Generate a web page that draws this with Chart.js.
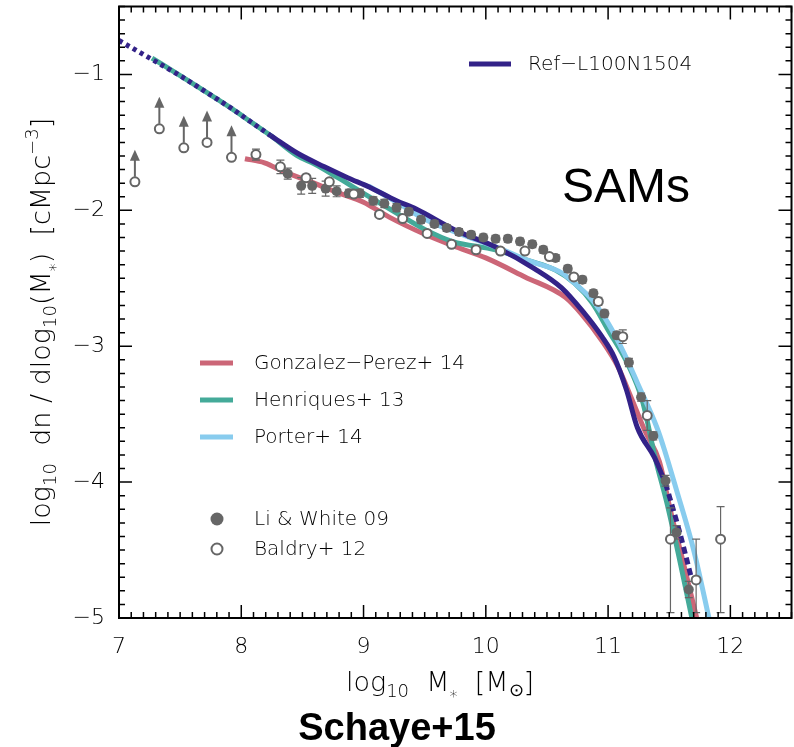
<!DOCTYPE html>
<html>
<head>
<meta charset="utf-8">
<script src="https://cdn.jsdelivr.net/npm/chart.js@4.4.1/dist/chart.umd.min.js"></script>
<style>
  html, body { margin: 0; padding: 0; background: #fff; overflow: hidden; }
  #wrap { width: 798px; height: 747px; }
</style>
</head>
<body>
<div id="wrap"><canvas id="smfChart"></canvas></div>
<script>
// ejes
const xTicks = [7, 8, 9, 10, 11, 12];
const xTickLabels = ['7', '8', '9', '10', '11', '12'];
const yTicks = [-5, -4, -3, -2, -1];
const yTickLabels = ['\u22125', '\u22124', '\u22123', '\u22122', '\u22121'];

// Ref-L100N1504: tramo punteado (resolucion), tramo solido, tramo a rayas (pocos objetos)
const refDotM   = [7.00, 7.27, 7.51, 7.73, 7.92, 8.08, 8.24];
const refDotPhi = [-0.75, -0.89, -1.015, -1.14, -1.25, -1.35, -1.45];
const refM   = [8.24, 8.46, 8.68, 8.87, 9.05, 9.27, 9.43, 9.76, 10.08, 10.40, 10.62, 10.79, 10.95, 11.05, 11.15, 11.24, 11.38, 11.47];
const refPhi = [-1.45, -1.58, -1.68, -1.76, -1.83, -1.93, -1.99, -2.15, -2.27, -2.43, -2.57, -2.74, -2.93, -3.08, -3.32, -3.60, -3.82, -4.01];
const refDashM   = [11.47, 11.58, 11.68];
const refDashPhi = [-4.01, -4.35, -4.70];

// modelos semi-analiticos
const gpM   = [8.03, 8.19, 8.36, 8.57, 8.79, 9.00, 9.21, 9.51, 9.73, 10.00, 10.32, 10.65, 10.78, 10.95, 11.08, 11.19, 11.30, 11.42, 11.51, 11.62, 11.73];
const gpPhi = [-1.62, -1.65, -1.72, -1.79, -1.87, -1.94, -2.05, -2.18, -2.26, -2.35, -2.49, -2.64, -2.76, -2.96, -3.15, -3.38, -3.62, -3.85, -4.21, -4.61, -5.02];

const henM   = [7.27, 7.51, 7.73, 7.92, 8.08, 8.24, 8.46, 8.60, 8.79, 9.00, 9.27, 9.50, 9.73, 10.08, 10.35, 10.57, 10.73, 10.87, 11.00, 11.16, 11.28, 11.39, 11.48, 11.58, 11.69];
const henPhi = [-0.88, -1.015, -1.14, -1.25, -1.35, -1.45, -1.60, -1.66, -1.76, -1.875, -2.02, -2.14, -2.23, -2.29, -2.37, -2.44, -2.54, -2.68, -2.88, -3.13, -3.40, -3.84, -4.15, -4.55, -5.02];

const porM   = [9.04, 9.27, 9.51, 9.84, 10.14, 10.35, 10.62, 10.73, 10.87, 11.00, 11.13, 11.24, 11.40, 11.46, 11.56, 11.70, 11.83];
const porPhi = [-1.82, -1.94, -2.07, -2.19, -2.29, -2.37, -2.46, -2.54, -2.66, -2.83, -3.05, -3.27, -3.60, -3.76, -4.06, -4.50, -5.02];

// observaciones: Li & White 09
const lwM   = [8.38, 8.49, 8.58, 8.69, 8.78, 8.88, 8.97, 9.08, 9.17, 9.27, 9.37, 9.47, 9.58, 9.68, 9.78, 9.88, 9.98, 10.08, 10.18, 10.28, 10.38, 10.47, 10.57, 10.67, 10.79, 10.88, 10.97, 11.07, 11.17, 11.27, 11.37, 11.47, 11.56, 11.66];
const lwPhi = [-1.73, -1.82, -1.82, -1.84, -1.86, -1.875, -1.875, -1.93, -1.95, -1.98, -2.01, -2.07, -2.10, -2.13, -2.16, -2.18, -2.20, -2.21, -2.21, -2.23, -2.25, -2.29, -2.35, -2.43, -2.51, -2.61, -2.76, -2.92, -3.12, -3.375, -3.66, -3.99, -4.37, -4.79];
const lwErr = [0.04, 0.06, 0.055, 0.055, 0.04, 0.03, 0.03, 0.03, 0.03, 0.03, 0.025, 0.025, 0.025, 0.025, 0.025, 0.025, 0.025, 0.025, 0.025, 0.025, 0.025, 0.025, 0.025, 0.025, 0.025, 0.025, 0.025, 0.025, 0.03, 0.03, 0.03, 0.04, 0.05, 0.06];

// Baldry+ 12 (los cinco primeros son limites inferiores)
const bM     = [7.13, 7.33, 7.53, 7.72, 7.92, 8.12, 8.32, 8.53, 8.72, 8.92, 9.13, 9.32, 9.52, 9.72, 9.92, 10.12, 10.32, 10.52, 10.72, 10.92, 11.12, 11.32, 11.51, 11.72, 11.92];
const bPhi   = [-1.79, -1.40, -1.54, -1.50, -1.61, -1.59, -1.68, -1.76, -1.79, -1.88, -2.03, -2.06, -2.17, -2.25, -2.29, -2.30, -2.30, -2.34, -2.49, -2.67, -2.93, -3.51, -4.42, -4.72, -4.42];
const bErrUp = [0, 0, 0, 0, 0, 0.04, 0.05, 0.02, 0.02, 0.02, 0.02, 0.02, 0.02, 0.02, 0.02, 0.02, 0.02, 0.02, 0.02, 0.03, 0.05, 0.11, 0.23, 0.30, 0.24];
const bErrLo = [0, 0, 0, 0, 0, 0.04, 0.05, 0.02, 0.02, 0.02, 0.02, 0.02, 0.02, 0.02, 0.02, 0.02, 0.02, 0.02, 0.02, 0.03, 0.05, 0.11, 0.54, 0.24, 0.54];
const bLimit = [true, true, true, true, true];

const COL = { ref: '#332288', gp: '#CC6677', hen: '#44AA99', por: '#88CCEE', obs: '#666666' };
const FONT = '"DejaVu Sans", sans-serif';

function pts(ms, phis) {
    return ms.map((m, i) => ({ x: m, y: phis[i] }));
}

function curva(label, ms, phis, color, order, dash) {
    return {
        label, data: pts(ms, phis), showLine: true, borderColor: color, backgroundColor: color,
        borderWidth: 5, pointRadius: 0, cubicInterpolationMode: 'monotone',
        borderDash: dash || [], borderCapStyle: 'butt', order
    };
}

const datasets = [
    {
        label: 'Baldry+ 12', data: pts(bM, bPhi), pointRadius: 4.5, pointBorderWidth: 2,
        borderColor: COL.obs, backgroundColor: '#fff', errHi: bErrUp, errLo: bErrLo, limits: bLimit, order: 0
    },
    {
        label: 'Li & White 09', data: pts(lwM, lwPhi), pointRadius: 5, pointBorderWidth: 0,
        borderColor: COL.obs, backgroundColor: COL.obs, errHi: lwErr, errLo: lwErr, order: 1
    },
    curva('Ref-L100N1504', refDotM, refDotPhi, COL.ref, 2, [4, 4]),
    curva('Ref-L100N1504', refM, refPhi, COL.ref, 2),
    curva('Ref-L100N1504', refDashM, refDashPhi, COL.ref, 2, [7, 4]),
    curva('Porter+ 14', porM, porPhi, COL.por, 3),
    curva('Henriques+ 13', henM, henPhi, COL.hen, 4),
    curva('Gonzalez-Perez+ 14', gpM, gpPhi, COL.gp, 5)
];

// barras de error y flechas de limite, justo antes de pintar los marcadores
const errorBars = {
    id: 'errorBars',
    beforeDatasetDraw(chart, args) {
        const ds = chart.data.datasets[args.index];
        if (!ds.errHi) return;
        const { ctx, chartArea: a, scales: { x, y } } = chart;
        ctx.save();
        ctx.beginPath();
        ctx.rect(a.left, a.top, a.right - a.left, a.bottom - a.top);
        ctx.clip();
        ctx.strokeStyle = COL.obs;
        ctx.fillStyle = COL.obs;
        ds.data.forEach((p, i) => {
            const px = x.getPixelForValue(p.x);
            const py = y.getPixelForValue(p.y);
            if (ds.limits && ds.limits[i]) {
                ctx.lineWidth = 2;
                ctx.beginPath();
                ctx.moveTo(px, py - 5);
                ctx.lineTo(px, py - 26);
                ctx.stroke();
                ctx.beginPath();
                ctx.moveTo(px, py - 32);
                ctx.lineTo(px - 5, py - 21);
                ctx.lineTo(px + 5, py - 21);
                ctx.closePath();
                ctx.fill();
                return;
            }
            const top = y.getPixelForValue(p.y + ds.errHi[i]);
            const bot = y.getPixelForValue(p.y - ds.errLo[i]);
            ctx.lineWidth = 1.2;
            ctx.beginPath();
            ctx.moveTo(px, top); ctx.lineTo(px, bot);
            ctx.moveTo(px - 4, top); ctx.lineTo(px + 4, top);
            ctx.moveTo(px - 4, bot); ctx.lineTo(px + 4, bot);
            ctx.stroke();
        });
        ctx.restore();
    }
};

// texto con sub/superindices
function textoRico(ctx, runs, x, y) {
    let w = 0;
    runs.forEach(r => { ctx.font = `${r.w || 200} ${r.s}px ${FONT}`; w += ctx.measureText(r.t).width; });
    let cx = x - w / 2;
    runs.forEach(r => {
        ctx.font = `${r.w || 200} ${r.s}px ${FONT}`;
        ctx.fillText(r.t, cx, y + (r.dy || 0));
        cx += ctx.measureText(r.t).width;
    });
}

// marco con marcas hacia dentro, titulos y leyendas
const marco = {
    id: 'marco',
    afterDraw(chart) {
        const { ctx, chartArea: a, scales: { x, y } } = chart;
        ctx.save();
        ctx.strokeStyle = '#000';
        ctx.lineWidth = 2;
        ctx.strokeRect(a.left, a.top, a.right - a.left, a.bottom - a.top);
        ctx.lineWidth = 1.5;
        ctx.beginPath();
        for (let k = Math.round(x.min * 10); k <= Math.round(x.max * 10); k++) {
            const px = x.getPixelForValue(k / 10);
            const len = k % 10 === 0 ? 13 : 6;
            ctx.moveTo(px, a.bottom); ctx.lineTo(px, a.bottom - len);
            ctx.moveTo(px, a.top); ctx.lineTo(px, a.top + len);
        }
        for (let k = Math.round(y.min * 10); k <= Math.round(y.max * 10); k++) {
            const py = y.getPixelForValue(k / 10);
            const len = k % 10 === 0 ? 13 : 6;
            ctx.moveTo(a.left, py); ctx.lineTo(a.left + len, py);
            ctx.moveTo(a.right, py); ctx.lineTo(a.right - len, py);
        }
        ctx.stroke();

        ctx.fillStyle = '#000';
        ctx.textAlign = 'left';
        ctx.textBaseline = 'alphabetic';

        // titulo eje x
        textoRico(ctx, [
            { t: 'log', s: 27 }, { t: '10', s: 18, dy: 6 }, { t: '  M', s: 27 },
            { t: '*', s: 16, dy: 11 }, { t: '  [M', s: 27 }, { t: '\u2299', s: 18, dy: 5 }, { t: ']', s: 27 }
        ], 440, 691);

        // titulo eje y
        ctx.save();
        ctx.translate(50, 322);
        ctx.rotate(-Math.PI / 2);
        textoRico(ctx, [
            { t: 'log', s: 27 }, { t: '10', s: 18, dy: 6 }, { t: '  dn / dlog', s: 27 },
            { t: '10', s: 18, dy: 6 }, { t: '(M', s: 27 }, { t: '*', s: 16, dy: 11 },
            { t: ')  [cMpc', s: 27 }, { t: '\u22123', s: 18, dy: -12 }, { t: ']', s: 27 }
        ], 0, 0);
        ctx.restore();

        ctx.font = `48px "Liberation Sans", sans-serif`;
        ctx.textAlign = 'center';
        ctx.fillText('SAMs', 626, 202);
        ctx.font = `bold 38px "Liberation Sans", sans-serif`;
        ctx.fillText('Schaye+15', 397, 740);

        // leyendas
        ctx.textAlign = 'left';
        ctx.textBaseline = 'middle';
        ctx.font = `200 20px ${FONT}`;
        ctx.lineWidth = 5;
        const lineas = [
            ['Ref\u2212L100N1504', COL.ref, 469, 511, 528, 64],
            ['Gonzalez\u2212Perez+ 14', COL.gp, 200, 233, 254, 363],
            ['Henriques+ 13', COL.hen, 200, 233, 254, 400],
            ['Porter+ 14', COL.por, 200, 233, 254, 437]
        ];
        lineas.forEach(([t, c, x0, x1, tx, ty]) => {
            ctx.strokeStyle = c;
            ctx.beginPath(); ctx.moveTo(x0, ty); ctx.lineTo(x1, ty); ctx.stroke();
            ctx.fillText(t, tx, ty + 1);
        });
        ctx.fillStyle = COL.obs;
        ctx.beginPath(); ctx.arc(217, 519, 6.5, 0, Math.PI * 2); ctx.fill();
        ctx.strokeStyle = COL.obs; ctx.lineWidth = 2;
        ctx.beginPath(); ctx.arc(217, 549, 5.5, 0, Math.PI * 2); ctx.stroke();
        ctx.fillStyle = '#000';
        ctx.fillText('Li & White 09', 254, 520);
        ctx.fillText('Baldry+ 12', 254, 550);
        ctx.restore();
    }
};

const ctx = document.getElementById('smfChart').getContext('2d');
new Chart(ctx, {
    type: 'scatter',
    data: { datasets },
    options: {
        responsive: true,
        maintainAspectRatio: false,
        devicePixelRatio: 1,
        animation: false,
        layout: { padding: { top: 6, right: 1, left: 0, bottom: 0 } },
        plugins: { legend: { display: false }, tooltip: { enabled: false } },
        scales: {
            x: {
                type: 'linear', min: 7, max: 12.5,
                grid: { display: false, drawTicks: false },
                border: { display: false },
                afterBuildTicks: s => { s.ticks = xTicks.map(v => ({ value: v })); },
                afterFit: s => { s.height = 129; s.paddingLeft = 0; s.paddingRight = 0; },
                ticks: {
                    padding: 16, color: '#000', maxRotation: 0,
                    font: { family: FONT, size: 22, weight: 200 },
                    callback: (v, i) => xTickLabels[i]
                }
            },
            y: {
                type: 'linear', min: -5, max: -0.5,
                grid: { display: false, drawTicks: false },
                border: { display: false },
                afterBuildTicks: s => { s.ticks = yTicks.map(v => ({ value: v })); },
                afterFit: s => { s.width = 119; s.paddingTop = 0; s.paddingBottom = 0; },
                ticks: {
                    padding: 14, color: '#000',
                    font: { family: FONT, size: 22, weight: 200 },
                    callback: (v, i) => yTickLabels[i]
                }
            }
        }
    },
    plugins: [errorBars, marco]
});
</script>
</body>
</html>
